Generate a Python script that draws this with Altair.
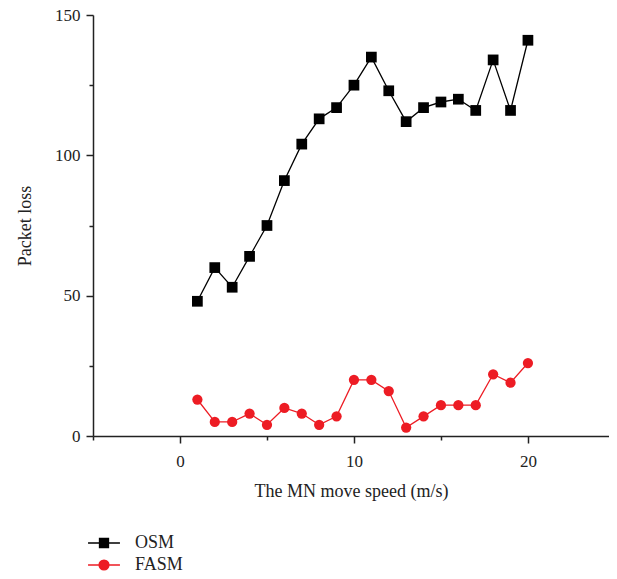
import altair as alt
import pandas as pd

speed = list(range(1, 21))
osm = [48, 60, 53, 64, 75, 91, 104, 113, 117, 125, 135, 123, 112, 117, 119, 120, 116, 134, 116, 141]
fasm = [13, 5, 5, 8, 4, 10, 8, 4, 7, 20, 20, 16, 3, 7, 11, 11, 11, 22, 19, 26]
series = ["OSM", "FASM"]
colors = ["#000000", "#ed1c24"]

df = pd.DataFrame({
    "speed": speed * 2,
    "loss": osm + fasm,
    "series": [series[0]] * len(osm) + [series[1]] * len(fasm),
})

FONT = "Liberation Serif"
SQ = "M-1.45,0L1.45,0M-0.41,-0.41L0.41,-0.41L0.41,0.41L-0.41,0.41Z"
CI = "M-1.45,0L1.45,0M-0.45,0A0.45,0.45 0 1,1 0.45,0A0.45,0.45 0 1,1 -0.45,0Z"
legend_shapes = [SQ, CI]

x = alt.X(
    "speed:Q",
    scale=alt.Scale(domain=[-5, 24.66], nice=False, zero=False),
    axis=alt.Axis(
        values=[-5, 0, 5, 10, 15, 20],
        labelExpr="datum.value % 10 == 0 ? datum.label : ''",
        tickSize={"condition": {"test": "datum.value % 10 == 0", "value": 7}, "value": 4},
        title="The MN move speed (m/s)",
        titlePadding=13,
        labelPadding=10,
    ),
)
y = alt.Y(
    "loss:Q",
    scale=alt.Scale(domain=[0, 150], nice=False),
    axis=alt.Axis(
        values=[0, 25, 50, 75, 100, 125, 150],
        labelExpr="datum.value % 50 == 0 ? datum.label : ''",
        tickSize={"condition": {"test": "datum.value % 50 == 0", "value": 7}, "value": 4},
        title="Packet loss",
        titlePadding=20,
        labelPadding=6,
    ),
)
color_scale = alt.Scale(domain=series, range=colors)

line = alt.Chart(df).mark_line(strokeWidth=1.3).encode(
    x=x, y=y,
    color=alt.Color("series:N", scale=color_scale, legend=None),
    detail="series:N",
)

sq_points = alt.Chart(df).transform_filter("datum.series == 'OSM'").mark_point(
    filled=True, size=115, opacity=1, shape="square"
).encode(x=x, y=y, color=alt.Color("series:N", scale=color_scale, legend=None))

ci_points = alt.Chart(df).transform_filter("datum.series == 'FASM'").mark_point(
    filled=True, size=105, opacity=1, shape="circle"
).encode(x=x, y=y, color=alt.Color("series:N", scale=color_scale, legend=None))

leg = alt.Legend(
    title=None, orient="none", legendX=-1, legendY=516,
    symbolSize=484, symbolStrokeWidth=1.3, symbolOpacity=1,
    labelFont=FONT, labelFontSize=18, labelColor="#222",
    labelOffset=19, rowPadding=1, padding=0,
)
legend_layer = alt.Chart(df).mark_point(filled=True, strokeWidth=1.3, opacity=0).encode(
    x=x, y=y,
    fill=alt.Fill("series:N", scale=alt.Scale(domain=series, range=colors), legend=leg),
    stroke=alt.Stroke("series:N", scale=alt.Scale(domain=series, range=colors), legend=leg),
    shape=alt.Shape("series:N", scale=alt.Scale(domain=series, range=legend_shapes), legend=leg),
)

chart = alt.layer(legend_layer, line, sq_points, ci_points).properties(
    width=516, height=421,
    autosize=alt.AutoSizeParams(type="none"),
    padding={"left": 85, "top": 7, "right": 0, "bottom": 138},
).configure_view(stroke=None).configure_axis(
    labelFont=FONT, titleFont=FONT, labelFontSize=17, titleFontSize=18,
    titleFontWeight="normal", labelColor="#222", titleColor="#222",
    domainColor="#222", tickColor="#222", domainWidth=1.5, tickWidth=1.5,
    grid=False,
)

chart.save("out.html", embed_options={"renderer": "svg", "actions": False})
